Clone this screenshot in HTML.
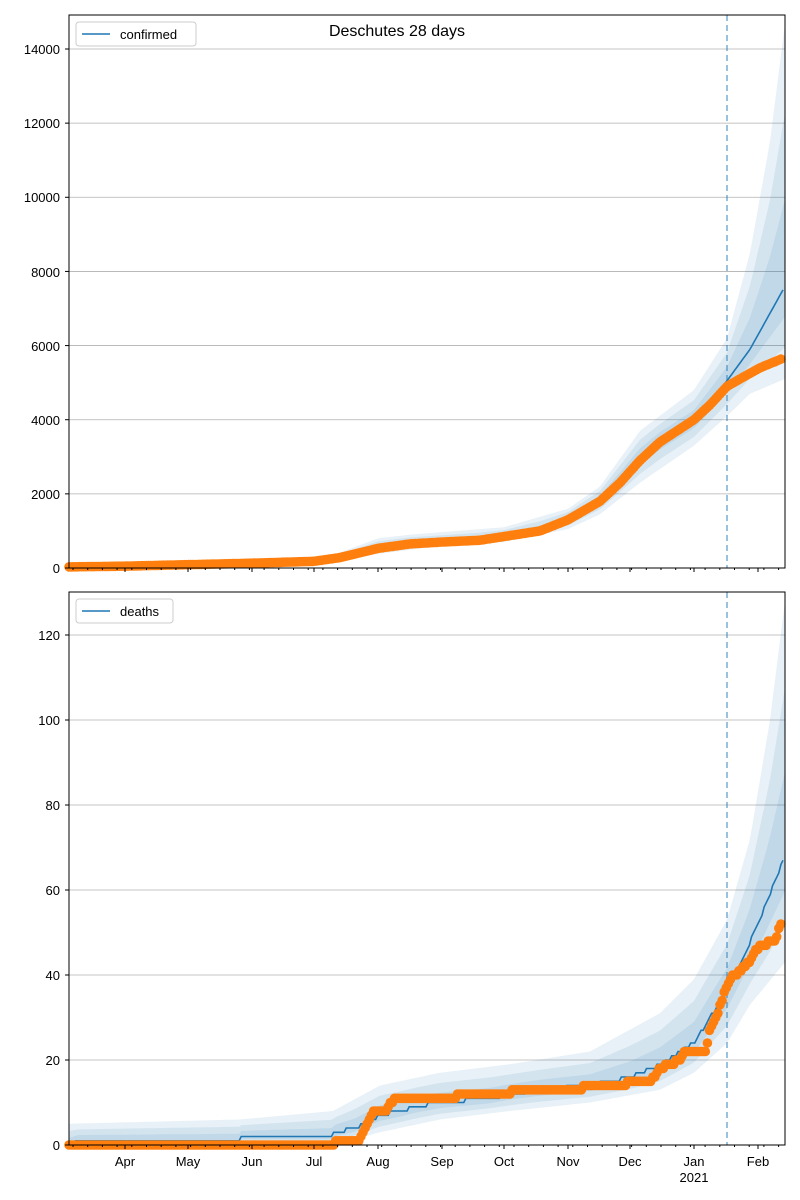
<!DOCTYPE html>
<html><head><meta charset="utf-8"><style>
body{margin:0;background:#fff;}
svg{display:block;font-family:"Liberation Sans","DejaVu Sans",sans-serif;}
</style></head><body>
<svg id="s" width="800" height="1200" viewBox="0 0 800 1200" xmlns="http://www.w3.org/2000/svg">
<rect width="800" height="1200" fill="#fff"/>
<g id="top"></g><g id="bot"></g>
<g font-size="13" fill="#000" text-anchor="end">
<text x="60" y="573">0</text><text x="60" y="499">2000</text><text x="60" y="425">4000</text><text x="60" y="351">6000</text><text x="60" y="277">8000</text><text x="60" y="202">10000</text><text x="60" y="128">12000</text><text x="60" y="54">14000</text>
<text x="60" y="1150">0</text><text x="60" y="1065">20</text><text x="60" y="980">40</text><text x="60" y="895">60</text><text x="60" y="810">80</text><text x="60" y="725">100</text><text x="60" y="640">120</text>
</g>
<g font-size="13" fill="#000" text-anchor="middle">
<text x="125" y="1166">Apr</text><text x="188" y="1166">May</text><text x="252" y="1166">Jun</text><text x="314" y="1166">Jul</text><text x="378" y="1166">Aug</text><text x="442" y="1166">Sep</text><text x="504" y="1166">Oct</text><text x="568" y="1166">Nov</text><text x="630" y="1166">Dec</text><text x="694" y="1166">Jan</text><text x="694" y="1182">2021</text><text x="758" y="1166">Feb</text>
</g>
<text x="397" y="36" font-size="16" text-anchor="middle">Deschutes 28 days</text>
<g font-size="13">
<rect x="76" y="22" width="120" height="24" fill="#fff" fill-opacity="0.8" stroke="#ccc" rx="3"/>
<line x1="82" y1="34" x2="110" y2="34" stroke="#1f77b4" stroke-width="1.5"/>
<text x="120" y="39">confirmed</text>
<rect x="76" y="599" width="97" height="24" fill="#fff" fill-opacity="0.8" stroke="#ccc" rx="3"/>
<line x1="82" y1="611" x2="110" y2="611" stroke="#1f77b4" stroke-width="1.5"/>
<text x="120" y="616">deaths</text>
</g>
</svg>
<script>
var NS="http://www.w3.org/2000/svg";
function interp(pts,x){if(x<=pts[0][0])return pts[0][1];for(var i=1;i<pts.length;i++){if(x<=pts[i][0]){var a=pts[i-1],b=pts[i];if(b[0]==a[0])return b[1];return a[1]+(b[1]-a[1])*(x-a[0])/(b[0]-a[0]);}}return pts[pts.length-1][1];}
function el(p,tag,at){var e=document.createElementNS(NS,tag);for(var k in at)e.setAttribute(k,at[k]);p.appendChild(e);return e;}
function panel(g,y0,y1,vmax,ticks,obs,line,up,lo,step){
 var sy=function(v){return y1-(v/vmax)*(y1-y0);};
 var leg=g;
 ticks.forEach(function(t){var y=sy(t);el(g,"line",{x1:69,x2:785,y1:y,y2:y,stroke:"#b0b0b0","stroke-width":0.8});});
 [1,0.66,0.33].forEach(function(f){
  var d="",xs=[];for(var x=69;x<=785;x+=2.1)xs.push(x);xs.push(785);
  xs.forEach(function(x,i){var m=interp(line,x),u=interp(up,x);var v=m+(u-m)*f;d+=(i?"L":"M")+x.toFixed(1)+","+sy(v).toFixed(1);});
  for(var i=xs.length-1;i>=0;i--){var x=xs[i],m=interp(line,x),l=interp(lo,x);var v=m-(m-l)*f;d+="L"+x.toFixed(1)+","+sy(v).toFixed(1);}
  el(g,"path",{d:d+"Z",fill:"#1f77b4","fill-opacity":0.1});
 });
 var d="";for(var x=69,i=0;x<=785;x+=2.1,i++){var v=interp(line,x);if(step)v=Math.round(v);d+=(i?"L":"M")+x.toFixed(1)+","+sy(v).toFixed(1);}
 el(g,"path",{d:d,fill:"none",stroke:"#1f77b4","stroke-width":1.6});
 el(g,"line",{x1:727,x2:727,y1:y0,y2:y1,stroke:"#1f77b4","stroke-opacity":0.6,"stroke-width":1.5,"stroke-dasharray":"6,4"});
 for(var x=69;x<=783;x+=2.1){var v=interp(obs,x);if(step)v=Math.round(v);el(g,"circle",{cx:x.toFixed(1),cy:sy(v).toFixed(1),r:4.8,fill:"#ff7f0e"});}
 el(g,"rect",{x:69,y:y0,width:716,height:y1-y0,fill:"none",stroke:"#000","stroke-width":1});
 ticks.forEach(function(t){var y=sy(t);el(g,"line",{x1:65,x2:69,y1:y,y2:y,stroke:"#000"});});
 for(var x=69+4;x<785;x+=14.7){el(g,"line",{x1:x,x2:x,y1:y1,y2:y1+2,stroke:"#000"});}
 [125,188,252,314,378,442,504,568,630,694,758].forEach(function(x){el(g,"line",{x1:x,x2:x,y1:y1,y2:y1+4,stroke:"#000"});});
}
var cObs=[[69,30],[125,50],[188,90],[252,130],[314,180],[340,280],[378,530],[410,650],[442,700],[480,750],[504,850],[540,1000],[568,1300],[600,1800],[620,2300],[640,2900],[660,3400],[694,4000],[710,4400],[727,4900],[740,5100],[760,5400],[785,5680]];
var cLine=[[69,30],[125,50],[188,90],[252,130],[314,180],[340,290],[378,560],[410,680],[442,720],[480,770],[504,880],[540,1030],[568,1330],[600,1850],[620,2400],[640,3000],[660,3450],[694,4000],[710,4500],[727,5050],[750,5900],[785,7600]];
var cUp=[[69,60],[314,260],[340,420],[378,800],[410,900],[504,1100],[568,1600],[600,2200],[640,3700],[694,4800],[727,6200],[750,8500],[770,11500],[785,14700]];
var cLo=[[69,0],[314,100],[378,380],[442,600],[504,700],[568,1050],[600,1450],[640,2300],[694,3300],[727,4100],[750,4700],[785,5100]];
panel(document.getElementById("top"),15,568,14000*553/519,[0,2000,4000,6000,8000,10000,12000,14000],cObs,cLine,cUp,cLo,false);
var dObs=[[69,0],[335,0],[336,1],[360,1],[362,3],[368,5],[374,8],[386,8],[390,10],[398,11],[455,11],[458,12],[510,12],[513,13],[580,13],[583,14],[625,14],[628,15],[650,15],[660,18],[680,20],[685,22],[705,22],[710,27],[718,31],[724,36],[730,39],[745,42],[760,47],[775,48],[781,52]];
var dLine=[[69,0],[78,1],[240,1],[241,2],[333,2],[334,3],[355,4],[380,7],[400,8],[415,9],[440,10],[490,11],[510,12],[540,13],[590,14],[630,16],[660,19],[694,24],[710,30],[727,36],[745,45],[765,56],[785,68]];
var dUp=[[69,5],[240,6],[333,8],[380,14],[440,17],[510,19],[590,22],[660,31],[694,39],[727,53],[750,72],[770,100],[785,128]];
var dLo=[[69,0],[333,0],[380,3],[440,6],[510,8],[590,10],[660,13],[694,17],[727,24],[750,33],[785,43]];
panel(document.getElementById("bot"),592,1145,120*553/510,[0,20,40,60,80,100,120],dObs,dLine,dUp,dLo,true);
</script>
</body></html>
